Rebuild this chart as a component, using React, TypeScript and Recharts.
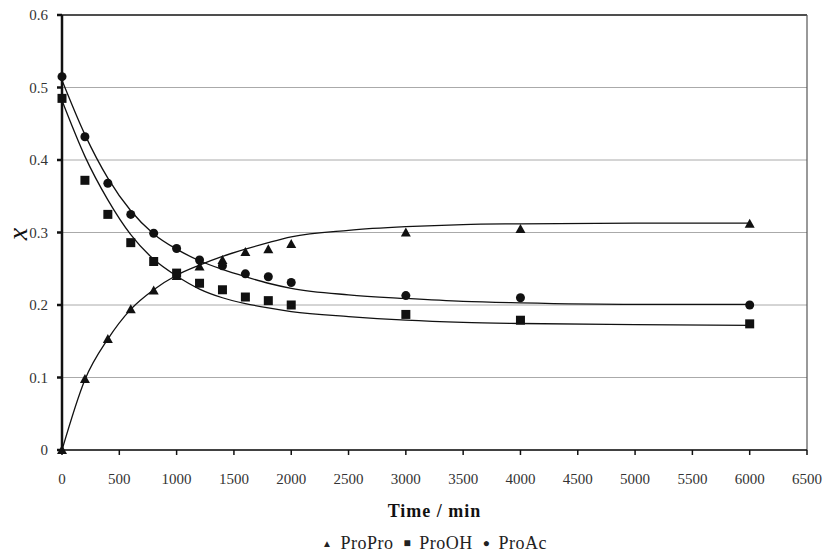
import {
  ComposedChart,
  Line,
  Scatter,
  XAxis,
  YAxis,
  CartesianGrid,
  ReferenceLine,
} from "recharts";

// measured points
const sampleTimes = [0, 200, 400, 600, 800, 1000, 1200, 1400, 1600, 1800, 2000, 3000, 4000, 6000];
const proProPts = [0, 0.098, 0.153, 0.194, 0.22, 0.24, 0.253, 0.262, 0.273, 0.277, 0.284, 0.3, 0.305, 0.312];
const proOHPts = [0.485, 0.372, 0.325, 0.286, 0.26, 0.244, 0.23, 0.221, 0.211, 0.206, 0.2, 0.187, 0.179, 0.174];
const proAcPts = [0.515, 0.432, 0.368, 0.325, 0.299, 0.278, 0.262, 0.254, 0.243, 0.239, 0.231, 0.213, 0.21, 0.2];

// fitted curves
const curveTimes = [0, 200, 400, 600, 800, 1000, 1200, 1400, 1600, 1800, 2000, 2500, 3000, 3500, 4000, 5000, 6000];
const proProFit = [0, 0.097, 0.153, 0.194, 0.221, 0.241, 0.255, 0.267, 0.277, 0.286, 0.294, 0.303, 0.308, 0.311, 0.312, 0.313, 0.313];
const proOHFit = [0.482, 0.405, 0.345, 0.297, 0.263, 0.24, 0.222, 0.21, 0.202, 0.196, 0.191, 0.184, 0.179, 0.176, 0.1745, 0.173, 0.172];
const proAcFit = [0.51, 0.435, 0.375, 0.33, 0.298, 0.277, 0.261, 0.249, 0.239, 0.23, 0.223, 0.214, 0.209, 0.205, 0.203, 0.201, 0.201];

const xTicks = [0, 500, 1000, 1500, 2000, 2500, 3000, 3500, 4000, 4500, 5000, 5500, 6000, 6500];
const yTicks = [0, 0.1, 0.2, 0.3, 0.4, 0.5, 0.6];

const toRows = (ts: number[], vs: number[]) => ts.map((t, i) => ({ t, v: vs[i] }));

const FONT = "'Liberation Serif', serif";

const Triangle = (props: any) => {
  const { cx, cy } = props;
  return <polygon points={`${cx},${cy - 5} ${cx + 5},${cy + 4} ${cx - 5},${cy + 4}`} fill="#111" />;
};
const Square = (props: any) => {
  const { cx, cy } = props;
  return <rect x={cx - 4.5} y={cy - 4.5} width={9} height={9} fill="#111" />;
};
const Circle = (props: any) => {
  const { cx, cy } = props;
  return <circle cx={cx} cy={cy} r={4.5} fill="#111" />;
};

const YLabel = () => (
  <text
    x={17}
    y={234}
    transform="rotate(-90 17 234)"
    textAnchor="middle"
    dominantBaseline="central"
    fontFamily={FONT}
    fontStyle="italic"
    fontSize={28}
    fill="#111"
  >
    x
  </text>
);

const legendItems = [
  { name: "ProPro", mark: "▲", size: 10 },
  { name: "ProOH", mark: "■", size: 12 },
  { name: "ProAc", mark: "●", size: 12 },
];

const App = () => {
  return (
    <div style={{ position: "absolute", left: 0, top: 0, width: 825, height: 558, background: "#fff" }}>
      <ComposedChart width={825} height={558} margin={{ top: 15, right: 18, left: 0, bottom: 78 }}>
        <CartesianGrid horizontal vertical={false} stroke="#aaa" strokeWidth={1} />
        <XAxis
          type="number"
          dataKey="t"
          domain={[0, 6500]}
          ticks={xTicks}
          interval={0}
          height={30}
          tickSize={5}
          tickMargin={18}
          stroke="#111"
          strokeWidth={1.5}
          tick={{ fontFamily: FONT, fontSize: 15, fill: "#333" }}
          label={{
            value: "Time / min",
            position: "bottom",
            offset: 24,
            style: { fontFamily: FONT, fontSize: 18, fontWeight: "bold", fill: "#111", letterSpacing: 1 },
          }}
        />
        <YAxis
          type="number"
          dataKey="v"
          domain={[0, 0.6]}
          ticks={yTicks}
          interval={0}
          width={62}
          tickSize={5}
          tickMargin={9}
          stroke="#111"
          strokeWidth={2.5}
          tick={{ fontFamily: FONT, fontSize: 15, fill: "#333" }}
          label={<YLabel />}
        />
        <ReferenceLine y={0.6} stroke="#222" strokeWidth={1.5} />
        <ReferenceLine x={6500} stroke="#555" strokeWidth={1.2} />
        <Line data={toRows(curveTimes, proProFit)} dataKey="v" type="monotone" stroke="#111" strokeWidth={1.3} dot={false} isAnimationActive={false} />
        <Line data={toRows(curveTimes, proOHFit)} dataKey="v" type="monotone" stroke="#111" strokeWidth={1.3} dot={false} isAnimationActive={false} />
        <Line data={toRows(curveTimes, proAcFit)} dataKey="v" type="monotone" stroke="#111" strokeWidth={1.3} dot={false} isAnimationActive={false} />
        <Scatter name="ProPro" data={toRows(sampleTimes, proProPts)} shape={<Triangle />} isAnimationActive={false} />
        <Scatter name="ProOH" data={toRows(sampleTimes, proOHPts)} shape={<Square />} isAnimationActive={false} />
        <Scatter name="ProAc" data={toRows(sampleTimes, proAcPts)} shape={<Circle />} isAnimationActive={false} />
      </ComposedChart>
      <div
        style={{
          position: "absolute",
          top: 533,
          left: 0,
          width: 869,
          display: "flex",
          justifyContent: "center",
          alignItems: "center",
          fontFamily: FONT,
          fontSize: 18,
          letterSpacing: 0.5,
          color: "#222",
          whiteSpace: "nowrap",
        }}
      >
        {legendItems.map((it) => (
          <span key={it.name} style={{ display: "inline-flex", alignItems: "center", margin: "0 5px" }}>
            <span style={{ fontSize: it.size, marginRight: 8 }}>{it.mark}</span>
            {it.name}
          </span>
        ))}
      </div>
    </div>
  );
};

export default App;
